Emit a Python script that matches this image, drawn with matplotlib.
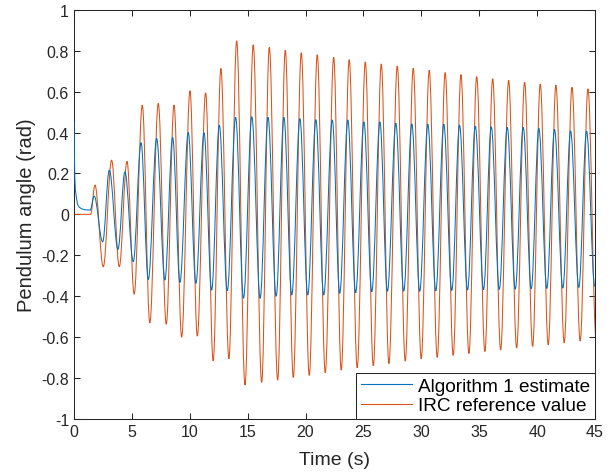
import matplotlib
matplotlib.use("Agg")
import matplotlib.pyplot as plt
from matplotlib.path import Path
from matplotlib.patches import PathPatch
from matplotlib.lines import Line2D
from matplotlib.ticker import FuncFormatter

plt.rcParams['font.family'] = ['Liberation Sans', 'DejaVu Sans']
plt.rcParams['axes.unicode_minus'] = False

# IRC reference value: flat start, then peaks/troughs (time s, angle rad)
irc_start_t = [0.0, 1.44]
irc_start_v = [0.0, 0.0]
irc_ext_t = [1.81, 2.53, 3.25, 3.91, 4.58, 5.20, 5.90, 6.55, 7.28, 7.97,
             8.64, 9.30, 10.02, 10.65, 11.37, 12.02, 12.69, 13.38, 14.05, 14.77,
             15.48, 16.21, 16.87, 17.59, 18.25, 18.94, 19.63, 20.32, 21.01, 21.70,
             22.43, 23.08, 23.77, 24.46, 25.16, 25.85, 26.54, 27.20, 27.92, 28.61,
             29.30, 29.99, 30.68, 31.37, 32.06, 32.75, 33.42, 34.11, 34.78, 35.49,
             36.16, 36.85, 37.54, 38.23, 38.92, 39.61, 40.27, 40.96, 41.62, 42.34,
             43.01, 43.72, 44.39, 45.10]
irc_ext_v = [0.143, -0.256, 0.265, -0.256, 0.259, -0.390, 0.534, -0.530, 0.542, -0.537,
             0.534, -0.600, 0.604, -0.595, 0.594, -0.716, 0.713, -0.706, 0.848, -0.834,
             0.829, -0.821, 0.816, -0.810, 0.803, -0.797, 0.790, -0.787, 0.780, -0.774,
             0.767, -0.761, 0.756, -0.750, 0.745, -0.740, 0.735, -0.729, 0.725, -0.717,
             0.714, -0.706, 0.704, -0.699, 0.693, -0.689, 0.683, -0.680, 0.673, -0.670,
             0.663, -0.663, 0.655, -0.653, 0.646, -0.645, 0.637, -0.637, 0.631, -0.627,
             0.621, -0.619, 0.613, -0.610]

# Algorithm 1 estimate: initial decay, then peaks/troughs
alg_start_t = [0.0, 0.03, 0.07, 0.12, 0.20, 0.30, 0.45, 0.70, 1.00, 1.40]
alg_start_v = [0.457, 0.300, 0.180, 0.120, 0.085, 0.050, 0.035, 0.026, 0.022, 0.021]
alg_ext_t = [1.74, 2.48, 3.05, 3.80, 4.40, 5.12, 5.79, 6.42, 7.14, 7.85,
             8.52, 9.15, 9.87, 10.53, 11.23, 11.89, 12.55, 13.24, 13.96, 14.64,
             15.36, 16.08, 16.76, 17.46, 18.13, 18.81, 19.51, 20.19, 20.89, 21.57,
             22.31, 22.95, 23.65, 24.33, 25.04, 25.72, 26.42, 27.07, 27.80, 28.48,
             29.18, 29.86, 30.56, 31.25, 31.94, 32.63, 33.30, 33.99, 34.66, 35.37,
             36.04, 36.73, 37.42, 38.11, 38.80, 39.49, 40.15, 40.84, 41.50, 42.22,
             42.89, 43.60, 44.27, 44.98]
alg_ext_v = [0.089, -0.134, 0.216, -0.171, 0.208, -0.231, 0.350, -0.318, 0.371, -0.321,
             0.376, -0.332, 0.400, -0.337, 0.399, -0.370, 0.436, -0.373, 0.474, -0.410,
             0.477, -0.410, 0.474, -0.400, 0.474, -0.394, 0.468, -0.394, 0.463, -0.394,
             0.461, -0.386, 0.461, -0.383, 0.452, -0.378, 0.452, -0.376, 0.445, -0.375,
             0.442, -0.376, 0.441, -0.374, 0.441, -0.372, 0.436, -0.370, 0.431, -0.368,
             0.428, -0.367, 0.425, -0.366, 0.425, -0.364, 0.420, -0.362, 0.415, -0.360,
             0.408, -0.357, 0.407, -0.352]

labels = ['Algorithm 1 estimate', 'IRC reference value']
blue = '#0072BD'
red = '#D95319'
axcol = '#262626'


def wave_path(start_t, start_v, ext_t, ext_v):
    # straight pieces for the start, then smooth arcs with flat tangents at each extremum
    verts = [(start_t[0], start_v[0])]
    codes = [Path.MOVETO]
    for t, v in zip(start_t[1:], start_v[1:]):
        verts.append((t, v))
        codes.append(Path.LINETO)
    t0, v0 = start_t[-1], start_v[-1]
    k = 0.364
    for t1, v1 in zip(ext_t, ext_v):
        dt = t1 - t0
        verts += [(t0 + k * dt, v0), (t1 - k * dt, v1), (t1, v1)]
        codes += [Path.CURVE4] * 3
        t0, v0 = t1, v1
    return Path(verts, codes)


fig = plt.figure(figsize=(6.15, 4.77), dpi=100)
ax = fig.add_axes([0.1203, 0.1195, 0.8472, 0.858])

ax.add_patch(PathPatch(wave_path(alg_start_t, alg_start_v, alg_ext_t, alg_ext_v),
                       fill=False, edgecolor=blue, lw=0.75, zorder=3))
ax.add_patch(PathPatch(wave_path(irc_start_t, irc_start_v, irc_ext_t, irc_ext_v),
                       fill=False, edgecolor=red, lw=0.75, zorder=2))

ax.set_xlim(0, 45)
ax.set_ylim(-1, 1)
ax.set_xticks(range(0, 46, 5))
ax.set_yticks([-1, -0.8, -0.6, -0.4, -0.2, 0, 0.2, 0.4, 0.6, 0.8, 1])
ax.yaxis.set_major_formatter(FuncFormatter(lambda v, p: f"{v:g}"))
ax.tick_params(direction='in', top=True, right=True, length=4, width=0.75,
               colors=axcol, labelsize=11.5, labelcolor=axcol)
for s in ax.spines.values():
    s.set_color(axcol)
    s.set_linewidth(0.75)

ax.set_xlabel('Time (s)', fontsize=14, color=axcol, labelpad=9)
ax.set_ylabel('Pendulum angle (rad)', fontsize=14.5, color=axcol, labelpad=4)

handles = [Line2D([], [], color=blue, lw=0.8), Line2D([], [], color=red, lw=0.8)]
leg = ax.legend(handles, labels, loc='lower right', fontsize=13.7, fancybox=False,
                borderaxespad=0, handlelength=2.7, framealpha=1,
                edgecolor=axcol, borderpad=0.25, labelspacing=0.1, handletextpad=0.3)
leg.get_frame().set_linewidth(0.75)

fig.savefig('out.png', dpi=100)
